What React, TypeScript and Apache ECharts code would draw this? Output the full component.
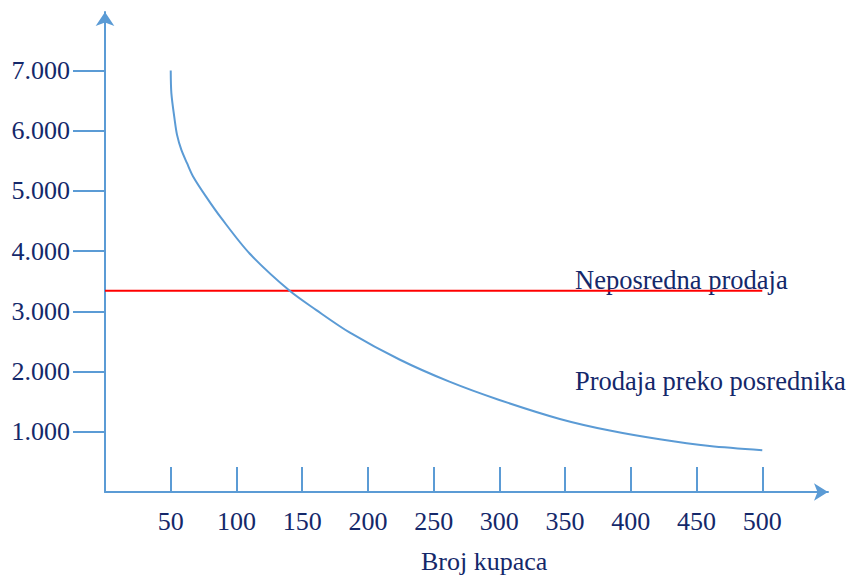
import React, { useEffect, useRef } from "react";
import * as echarts from "echarts";

const xTicks = [50, 100, 150, 200, 250, 300, 350, 400, 450, 500];
const yTicks = [1000, 2000, 3000, 4000, 5000, 6000, 7000];

// Prodaja preko posrednika (curve)
const curveX = [50, 50.5, 53, 54.8, 58.1, 62.4, 67, 77, 88.5, 110, 140.5, 160.8, 186, 224, 262, 300, 346, 384, 422, 460, 500];
const curveY = [7000, 6620, 6180, 5930, 5680, 5460, 5240, 4900, 4546, 3960, 3340, 3020, 2650, 2200, 1832, 1528, 1213, 1020, 875, 764, 695];

// Neposredna prodaja (flat line)
const directX = [0, 500];
const directY = [3340, 3340];

const labelDirect = "Neposredna prodaja";
const labelIndirect = "Prodaja preko posrednika";
const xName = "Broj kupaca";

const AXIS = "#5b9bd5";
const TEXT = "#14286a";
const FONT = "Liberation Serif";

function fmt(v: number) {
  return String(v).replace(/\B(?=(\d{3})+(?!\d))/g, ".");
}

export default function App() {
  const ref = useRef<HTMLDivElement>(null);
  useEffect(() => {
    if (!ref.current) return;
    const chart = echarts.init(ref.current, undefined, { renderer: "svg" });
    chart.setOption({
      animation: false,
      backgroundColor: "#ffffff",
      grid: { left: 105, right: 23, top: 12, bottom: 85 },
      xAxis: {
        type: "value",
        min: 0,
        max: 550,
        interval: 50,
        splitLine: { show: false },
        axisLine: {
          show: true,
          lineStyle: { color: AXIS, width: 2 },
          symbol: ["none", "arrow"],
          symbolSize: [13, 14],
        },
        axisTick: {
          show: true,
          inside: true,
          length: 25,
          lineStyle: { color: AXIS, width: 2 },
          customValues: xTicks,
        },
        axisLabel: {
          show: true,
          margin: 16,
          color: TEXT,
          fontFamily: FONT,
          fontSize: 26,
          customValues: xTicks,
        },
      },
      yAxis: {
        type: "value",
        min: 0,
        max: 7970,
        splitLine: { show: false },
        axisLine: {
          show: true,
          lineStyle: { color: AXIS, width: 2 },
          symbol: ["none", "arrow"],
          symbolSize: [14, 14],
        },
        axisTick: {
          show: true,
          inside: false,
          length: 32,
          lineStyle: { color: AXIS, width: 2 },
          customValues: yTicks,
        },
        axisLabel: {
          show: true,
          margin: 35,
          color: TEXT,
          fontFamily: FONT,
          fontSize: 26,
          customValues: yTicks,
          formatter: (v: number) => fmt(v),
        },
      },
      series: [
        {
          type: "line",
          data: directX.map((x, i) => [x, directY[i]]),
          symbol: "none",
          lineStyle: { color: "#ff0000", width: 2 },
          silent: true,
        },
        {
          type: "line",
          data: curveX.map((x, i) => [x, curveY[i]]),
          symbol: "none",
          smooth: 0.3,
          lineStyle: { color: AXIS, width: 2 },
          silent: true,
        },
      ],
      graphic: [
        {
          type: "text",
          left: 575,
          top: 266,
          style: { text: labelDirect, fill: TEXT, font: `26.5px ${FONT}` },
        },
        {
          type: "text",
          left: 575,
          top: 367,
          style: { text: labelIndirect, fill: TEXT, font: `26.5px ${FONT}` },
        },
        {
          type: "text",
          left: 421,
          top: 548,
          style: { text: xName, fill: TEXT, font: `26px ${FONT}` },
        },
      ],
    });
    return () => chart.dispose();
  }, []);
  return <div ref={ref} style={{ width: 851, height: 577, position: "absolute", left: 0, top: 0 }} />;
}
